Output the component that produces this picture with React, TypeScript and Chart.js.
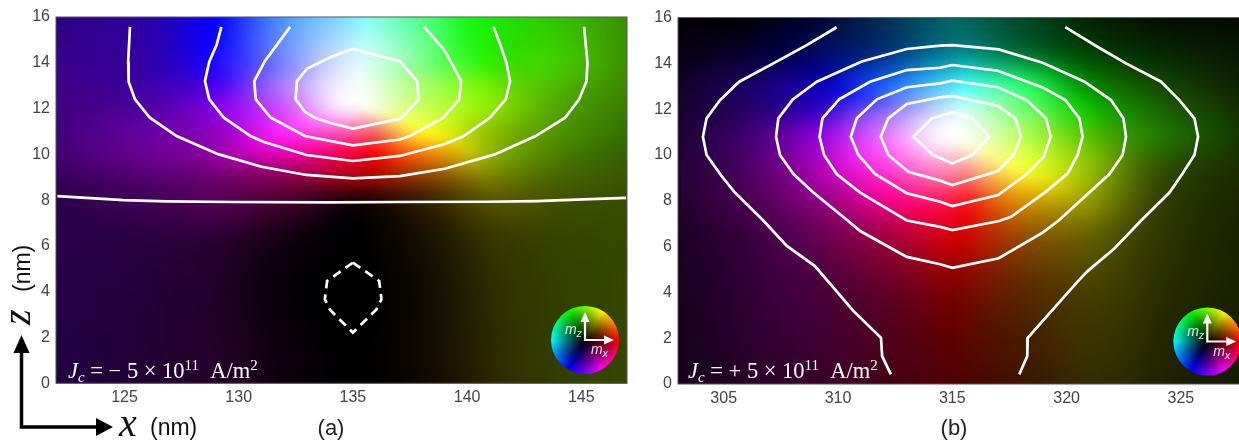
import React, { useEffect, useRef } from "react";
import { Chart, registerables } from "chart.js";
Chart.register(...registerables);

type Pt = [number, number];

// tick labels
const yTicks = [0, 2, 4, 6, 8, 10, 12, 14, 16];
const xTicksA = [125, 130, 135, 140, 145];
const xTicksB = [305, 310, 315, 320, 325];

// ---- panel (a) magnetisation field ----
const gridXA = [122, 126, 129, 132, 135, 138, 141, 144, 147];
const gridZA = [16, 14, 13, 12, 11, 10, 9, 8, 6, 0];
const hueA = [
  [262, 255, 240, 215, 190, 140, 115, 105, 95],
  [265, 258, 245, 235, 200, 125, 108, 100, 95],
  [268, 262, 258, 262, 230, 95, 92, 95, 92],
  [270, 270, 275, 285, 320, 78, 83, 90, 92],
  [272, 278, 285, 300, 335, 58, 75, 88, 92],
  [275, 285, 295, 315, 347, 28, 72, 85, 88],
  [275, 285, 300, 325, 355, 25, 62, 78, 82],
  [275, 285, 300, 320, 350, 30, 58, 72, 78],
  [272, 280, 290, 300, 0, 40, 60, 72, 76],
  [270, 280, 295, 310, 0, 30, 55, 70, 75],
];
const lightA = [
  [25, 33, 50, 65, 75, 65, 47, 38, 28],
  [27, 33, 52, 74, 93, 75, 47, 40, 28],
  [26, 33, 47, 75, 98, 72, 47, 36, 26],
  [25, 32, 45, 66, 97, 68, 46, 32, 24],
  [24, 32, 38, 58, 68, 58, 38, 29, 22],
  [22, 28, 32, 45, 48, 48, 35, 25, 19],
  [18, 22, 22, 27, 33, 28, 25, 20, 17],
  [15, 17, 17, 14, 6, 11, 17, 16, 15],
  [15, 12, 9, 3, 0, 4, 10, 13, 14],
  [13, 10, 8, 3, 0, 3, 8, 12, 14],
];

// ---- panel (b) magnetisation field ----
const gridXB = [303, 306, 309, 312, 315, 318, 321, 324, 328];
const gridZB = [16, 14.5, 13, 12, 10.8, 9.5, 8, 6.5, 4, 0];
const hueB = [
  [260, 245, 235, 205, 180, 155, 120, 112, 100],
  [265, 250, 235, 217, 185, 148, 120, 112, 100],
  [270, 255, 245, 223, 188, 140, 118, 105, 95],
  [270, 262, 255, 250, 200, 120, 115, 105, 92],
  [275, 275, 280, 290, 330, 85, 93, 102, 95],
  [280, 285, 295, 310, 345, 62, 75, 85, 85],
  [285, 295, 305, 325, 350, 40, 62, 72, 78],
  [285, 295, 310, 335, 357, 30, 58, 68, 75],
  [285, 295, 310, 335, 0, 25, 52, 65, 75],
  [285, 300, 315, 340, 0, 20, 50, 65, 75],
];
const lightB = [
  [1, 2, 9, 16, 19, 14, 7, 3, 2],
  [4, 9, 19, 25, 28, 22, 13, 8, 4],
  [7, 20, 35, 56, 65, 58, 28, 15, 6],
  [9, 20, 38, 70, 90, 72, 38, 20, 8],
  [10, 22, 42, 72, 100, 68, 38, 24, 9],
  [10, 20, 36, 62, 80, 62, 38, 17, 8],
  [9, 16, 27, 47, 55, 43, 30, 13, 7],
  [7, 12, 20, 32, 42, 30, 20, 11, 6],
  [6, 10, 14, 19, 24, 18, 14, 9, 6],
  [5, 8, 11, 13, 15, 12, 10, 7, 5],
];

// ---- contours of panel (a), [x, z] ----
const contourA1: Pt[] = [[125.24, 15.57], [125.16, 14.05], [125.18, 13.17], [125.46, 12.4], [126.11, 11.6], [127.28, 10.8], [129.1, 10.01], [131, 9.46], [132.97, 9.1], [135, 8.95], [137.05, 9.05], [139.02, 9.37], [141.21, 10], [143, 10.8], [144.29, 11.6], [144.9, 12.4], [145.22, 13.17], [145.27, 14], [145.12, 15.57]];
const contourA2: Pt[] = [[129.24, 15.57], [129.03, 14.77], [128.71, 14.05], [128.52, 13.2], [128.71, 12.4], [129.35, 11.6], [130.52, 10.8], [131.07, 10.55], [132.97, 9.97], [135, 9.71], [137.05, 9.93], [139.02, 10.45], [139.85, 10.8], [140.99, 11.6], [141.69, 12.4], [141.88, 13.2], [141.72, 14], [141.46, 14.77], [141.15, 15.57]];
const contourA3: Pt[] = [[132.25, 15.57], [131.15, 14.08], [130.68, 13.2], [130.75, 12.4], [131.39, 11.61], [132.9, 10.8], [135, 10.39], [137.05, 10.65], [137.49, 10.8], [138.95, 11.6], [139.65, 12.4], [139.74, 13.2], [139.31, 14], [139, 14.55], [138.12, 15.57]];
const contourA4: Pt[] = [[135, 14.61], [137.05, 14.07], [137.81, 13.2], [137.87, 12.4], [137.08, 11.56], [135, 11.13], [133.99, 11.38], [133.33, 11.6], [132.9, 11.86], [132.49, 12.4], [132.55, 13.2], [133, 13.75], [133.99, 14.23], [135, 14.61]];
const contourA5: Pt[] = [[122.06, 8.18], [124.95, 8], [126.84, 7.95], [129.76, 7.92], [133.99, 7.9], [136.9, 7.92], [140.85, 7.93], [143.03, 7.96], [145.08, 8.03], [146.97, 8.1]];
const contourADash: Pt[] = [[135, 5.27], [136.15, 4.47], [136.25, 3.67], [136.03, 3.23], [135, 2.21], [134, 3.2], [133.77, 3.67], [133.87, 4.47], [135, 5.27]];

// ---- contours of panel (b), [x, z] ----
const contourB1L: Pt[] = [[309.94, 15.58], [308.63, 14.8], [307.17, 14], [305.68, 13.2], [304.84, 12.4], [304.25, 11.6], [304.09, 10.8], [304.25, 10], [304.84, 9.17], [305.45, 8.4], [306.73, 7.14], [307.76, 6.03], [308.99, 5.15], [310.67, 3.19], [311.88, 2.02], [311.93, 1.22], [312.31, 0.42]];
const contourB1R: Pt[] = [[319.94, 15.58], [321.29, 14.76], [322.6, 14], [324.13, 13.2], [324.93, 12.4], [325.59, 11.6], [325.75, 10.8], [325.59, 10], [325.08, 9.2], [324.5, 8.36], [323.26, 7.14], [322.09, 5.92], [320.92, 4.93], [320.48, 4.47], [318.3, 2.02], [318.28, 1.22], [317.93, 0.42]];
const contourB2: Pt[] = [[315, 14.8], [314.47, 14.78], [313.01, 14.63], [311.04, 14.08], [309.07, 13.2], [308.02, 12.43], [307.39, 11.6], [307.29, 10.8], [307.46, 10], [308.05, 9.17], [308.92, 8.36], [310.42, 7.14], [310.97, 6.68], [313.01, 5.55], [314.47, 5.23], [315, 5.07], [317.03, 5.49], [318.95, 6.61], [319.65, 7.14], [320.55, 7.96], [321.87, 9.17], [322.45, 10], [322.6, 10.8], [322.48, 11.6], [321.94, 12.4], [320.78, 13.2], [318.95, 14.03], [317.03, 14.61], [315, 14.8]];
const contourB3: Pt[] = [[315, 13.93], [314.47, 13.81], [313.01, 13.71], [311.4, 13.2], [310.05, 12.43], [309.32, 11.6], [309.19, 10.8], [309.39, 10], [309.94, 9.17], [310.97, 8.36], [313.01, 7.14], [314.47, 6.86], [315, 6.72], [317.05, 7.12], [317.57, 7.3], [319.1, 8.4], [320.05, 9.2], [320.48, 10], [320.7, 10.8], [320.56, 11.6], [319.94, 12.4], [318.95, 12.95], [316.98, 13.68], [315, 13.93]];
const contourB4: Pt[] = [[315, 13.25], [314.47, 13.13], [313.01, 12.96], [311.7, 12.43], [310.82, 11.6], [310.56, 10.8], [310.89, 10], [311.62, 9.17], [313.01, 8.33], [314.47, 7.96], [315, 7.77], [317, 8.25], [318.3, 9.2], [319, 9.93], [319.3, 10.8], [319.1, 11.6], [318.25, 12.4], [317, 12.96], [315, 13.25]];
const contourB5: Pt[] = [[315, 12.58], [314.47, 12.52], [313.01, 12.23], [312.2, 11.6], [311.87, 10.8], [312.2, 10], [313.08, 9.27], [314.47, 8.88], [315, 8.69], [317, 9.3], [317.67, 10], [318, 10.8], [317.76, 11.6], [317, 12.14], [315, 12.58]];
const contourB6: Pt[] = [[315, 11.86], [315.88, 11.6], [316.62, 10.8], [315.88, 10], [315, 9.64], [314.17, 10], [313.3, 10.8], [314.1, 11.6], [315, 11.86]];

const contoursA = [contourA1, contourA2, contourA3, contourA4, contourA5];
const contoursB = [contourB1L, contourB1R, contourB2, contourB3, contourB4, contourB5, contourB6];

type Frag = [string, number, number, boolean];
const labelA: Frag[] = [["J", 22.5, 0, true], ["c", 15, 4, true], [" = \u2212 5 \u00d7 10", 22.5, 0, false], ["11", 15, -8, false], ["  A/m", 22.5, 0, false], ["2", 15, -8, false]];
const labelB: Frag[] = [["J", 22.5, 0, true], ["c", 15, 4, true], [" = + 5 \u00d7 10", 22.5, 0, false], ["11", 15, -8, false], ["  A/m", 22.5, 0, false], ["2", 15, -8, false]];

const SANS = '"Liberation Sans", Arial, sans-serif';
const SERIF = '"Liberation Serif", serif';

// Hermite weights of a value on an irregular grid (4 neighbouring nodes)
function weights(arr: number[], v: number): [number, number][] {
  const n = arr.length;
  const desc = arr[0] > arr[n - 1];
  let i = 0;
  while (i < n - 2 && (desc ? v < arr[i + 1] : v > arr[i + 1])) i++;
  const t0 = arr[i], t1 = arr[i + 1], d = t1 - t0;
  const t = Math.max(0, Math.min(1, (v - t0) / d));
  const h00 = 2 * t * t * t - 3 * t * t + 1, h10 = t * t * t - 2 * t * t + t;
  const h01 = -2 * t * t * t + 3 * t * t, h11 = t * t * t - t * t;
  const w = new Map<number, number>();
  const add = (k: number, x: number) => w.set(k, (w.get(k) || 0) + x);
  add(i, h00);
  add(i + 1, h01);
  const a = Math.max(i - 1, 0), b = i + 1;
  add(b, (h10 * d) / (arr[b] - arr[a]));
  add(a, (-h10 * d) / (arr[b] - arr[a]));
  const c = i, e = Math.min(i + 2, n - 1);
  add(e, (h11 * d) / (arr[e] - arr[c]));
  add(c, (-h11 * d) / (arr[e] - arr[c]));
  return Array.from(w.entries());
}

function fieldPlugin(gx: number[], gz: number[], hue: number[][], light: number[][]) {
  const cells = light.map((row, r) =>
    row.map((l, c) => {
      const L = l / 100;
      const C = 1 - Math.abs(2 * L - 1);
      const h = (hue[r][c] * Math.PI) / 180;
      return [C * Math.cos(h), C * Math.sin(h), L];
    })
  );
  return {
    id: "field",
    beforeDatasetsDraw(chart: any) {
      const { ctx, chartArea: a, scales } = chart;
      const w = Math.ceil(a.right - a.left), h = Math.ceil(a.bottom - a.top);
      const off = document.createElement("canvas");
      off.width = w; off.height = h;
      const oc = off.getContext("2d")!;
      const img = oc.createImageData(w, h);
      const wx: [number, number][][] = [];
      for (let px = 0; px < w; px++) wx.push(weights(gx, scales.x.getValueForPixel(a.left + px + 0.5)));
      for (let py = 0; py < h; py++) {
        const wz = weights(gz, scales.y.getValueForPixel(a.top + py + 0.5));
        for (let px = 0; px < w; px++) {
          let v0 = 0, v1 = 0, v2 = 0;
          for (const [r, wr] of wz) {
            for (const [c, wc] of wx[px]) {
              const p = cells[r][c], k = wr * wc;
              v0 += p[0] * k; v1 += p[1] * k; v2 += p[2] * k;
            }
          }
          const L = Math.max(0, Math.min(1, v2));
          const C = Math.min(Math.hypot(v0, v1), 1 - Math.abs(2 * L - 1));
          let H = (Math.atan2(v1, v0) * 180) / Math.PI;
          if (H < 0) H += 360;
          const X = C * (1 - Math.abs(((H / 60) % 2) - 1));
          const m = L - C / 2;
          const s = Math.floor(H / 60) % 6;
          const rgb = [[C, X, 0], [X, C, 0], [0, C, X], [0, X, C], [X, 0, C], [C, 0, X]][s];
          const o = (py * w + px) * 4;
          img.data[o] = (rgb[0] + m) * 255;
          img.data[o + 1] = (rgb[1] + m) * 255;
          img.data[o + 2] = (rgb[2] + m) * 255;
          img.data[o + 3] = 255;
        }
      }
      oc.putImageData(img, 0, 0);
      ctx.save();
      ctx.beginPath();
      ctx.rect(a.left, a.top, a.right - a.left, a.bottom - a.top);
      ctx.clip();
      ctx.drawImage(off, a.left, a.top, w, h);
      ctx.filter = "blur(5px)";
      ctx.drawImage(off, a.left, a.top, w, h);
      ctx.filter = "none";
      ctx.restore();
    },
  };
}

function arrowHead(ctx: any, tx: number, ty: number, dx: number, dy: number, len: number, half: number) {
  ctx.beginPath();
  ctx.moveTo(tx, ty);
  ctx.lineTo(tx - dx * len - dy * half, ty - dy * len - dx * half);
  ctx.lineTo(tx - dx * len + dy * half, ty - dy * len + dx * half);
  ctx.closePath();
  ctx.fill();
}

function decorPlugin(opts: { wheelX: number; wheelY: number; labelX: number; labelY: number; frags: Frag[]; tag: string; tagX: number; extra?: (ctx: any) => void }) {
  return {
    id: "decor",
    afterDatasetsDraw(chart: any) {
      const { ctx, chartArea: a } = chart;
      ctx.save();
      // frame
      ctx.strokeStyle = "#555";
      ctx.lineWidth = 1;
      ctx.strokeRect(a.left, a.top, a.right - a.left, a.bottom - a.top);
      // colour wheel
      const { wheelX: wx, wheelY: wy } = opts;
      const R = 34;
      const cg = ctx.createConicGradient(0, wx, wy);
      ["#ff0000", "#ff00ff", "#0000ff", "#00ffff", "#00ff00", "#ffff00", "#ff0000"].forEach((col, i) => cg.addColorStop(i / 6, col));
      ctx.fillStyle = cg;
      ctx.beginPath(); ctx.arc(wx, wy, R, 0, Math.PI * 2); ctx.fill();
      const rg = ctx.createRadialGradient(wx, wy, 0, wx, wy, R);
      rg.addColorStop(0, "rgba(0,0,0,1)");
      rg.addColorStop(0.45, "rgba(0,0,0,0.6)");
      rg.addColorStop(1, "rgba(0,0,0,0)");
      ctx.fillStyle = rg;
      ctx.beginPath(); ctx.arc(wx, wy, R, 0, Math.PI * 2); ctx.fill();
      ctx.strokeStyle = "#fff"; ctx.fillStyle = "#fff"; ctx.lineWidth = 2.2;
      ctx.beginPath(); ctx.moveTo(wx, wy - 20); ctx.lineTo(wx, wy); ctx.lineTo(wx + 22, wy); ctx.stroke();
      arrowHead(ctx, wx, wy - 28, 0, -1, 10, 4.5);
      arrowHead(ctx, wx + 29, wy, 1, 0, 10, 4.5);
      ctx.textBaseline = "alphabetic"; ctx.textAlign = "left";
      ctx.font = `italic 14px ${SANS}`;
      ctx.fillStyle = "rgba(255,255,255,0.88)";
      ctx.fillText("m", wx - 20, wy - 6);
      ctx.fillText("m", wx + 6, wy + 14);
      ctx.font = `italic 11px ${SANS}`;
      ctx.fillText("z", wx - 8.5, wy - 3);
      ctx.fillText("x", wx + 17.5, wy + 17);
      // current label
      let cx = opts.labelX;
      ctx.fillStyle = "#fff";
      opts.frags.forEach(([t, size, dy, it]) => {
        ctx.font = `${it ? "italic " : ""}${size}px ${SERIF}`;
        ctx.fillText(t, cx, opts.labelY + dy);
        cx += ctx.measureText(t).width;
      });
      // panel tag
      ctx.fillStyle = "#222";
      ctx.font = `22px ${SANS}`;
      ctx.textAlign = "center";
      ctx.fillText(opts.tag, opts.tagX, 435);
      ctx.textAlign = "left";
      if (opts.extra) opts.extra(ctx);
      ctx.restore();
    },
  };
}

function axesKey(ctx: any) {
  ctx.fillStyle = "#000";
  ctx.strokeStyle = "#000";
  ctx.lineWidth = 3.5;
  ctx.beginPath();
  ctx.moveTo(21.5, 350); ctx.lineTo(21.5, 427); ctx.lineTo(100, 427);
  ctx.stroke();
  arrowHead(ctx, 21.5, 335, 0, -1, 18, 8);
  arrowHead(ctx, 113, 427, 1, 0, 17, 9);
  ctx.fillStyle = "#111";
  ctx.font = `italic 40px ${SERIF}`;
  ctx.fillText("x", 119, 436);
  ctx.font = `23px ${SANS}`;
  ctx.fillText("(nm)", 150, 435);
  ctx.save();
  ctx.translate(30, 0);
  ctx.rotate(-Math.PI / 2);
  ctx.font = `italic 40px ${SERIF}`;
  ctx.fillText("z", -325, 0);
  ctx.font = `23px ${SANS}`;
  ctx.fillText("(nm)", -292, 0);
  ctx.restore();
}

function makeChart(canvas: HTMLCanvasElement, p: any) {
  return new Chart(canvas, {
    type: "scatter",
    data: {
      datasets: p.lines.map((d: Pt[]) => ({
        data: d.map(([x, y]) => ({ x, y })),
        showLine: true,
        borderColor: "#ffffff",
        borderWidth: 2.7,
        pointRadius: 0,
        tension: 0,
        borderDash: d === contourADash ? [9, 6] : [],
      })),
    },
    options: {
      animation: false,
      responsive: false,
      devicePixelRatio: 1,
      layout: { padding: { top: p.top, right: p.right, left: 0, bottom: 0 } },
      plugins: { legend: { display: false }, tooltip: { enabled: false } },
      scales: {
        x: {
          type: "linear", min: p.xMin, max: p.xMax,
          grid: { display: false, drawTicks: false }, border: { display: false },
          afterBuildTicks: (s: any) => { s.ticks = p.xTicks.map((value: number) => ({ value })); },
          afterFit: (s: any) => { s.height = p.bottomH; },
          ticks: { autoSkip: false, maxRotation: 0, padding: 5, color: "#444", font: { family: SANS, size: 16 } },
        },
        y: {
          type: "linear", min: 0, max: 16,
          grid: { display: false, drawTicks: false }, border: { display: false },
          afterBuildTicks: (s: any) => { s.ticks = yTicks.map((value) => ({ value })); },
          afterFit: (s: any) => { s.width = p.leftW; },
          ticks: { autoSkip: false, padding: 6, color: "#444", font: { family: SANS, size: 16 } },
        },
      },
    } as any,
    plugins: [fieldPlugin(p.gx, p.gz, p.hue, p.light), p.decor],
  } as any);
}

export default function App() {
  const a = useRef<HTMLCanvasElement>(null);
  const b = useRef<HTMLCanvasElement>(null);
  useEffect(() => {
    document.body.style.margin = "0";
    document.body.style.overflow = "hidden";
    document.body.style.background = "#fff";
    const c1 = makeChart(a.current!, {
      lines: [...contoursA, contourADash], xMin: 122, xMax: 147, xTicks: xTicksA,
      top: 17, right: 13, leftW: 56, bottomH: 58.7,
      gx: gridXA, gz: gridZA, hue: hueA, light: lightA,
      decor: decorPlugin({ wheelX: 585, wheelY: 340, labelX: 68, labelY: 378, frags: labelA, tag: "(a)", tagX: 331, extra: axesKey }),
    });
    const c2 = makeChart(b.current!, {
      lines: contoursB, xMin: 303, xMax: 328, xTicks: xTicksB,
      top: 17.6, right: 10.5, leftW: 38, bottomH: 58,
      gx: gridXB, gz: gridZB, hue: hueB, light: lightB,
      decor: decorPlugin({ wheelX: 567.3, wheelY: 341.5, labelX: 48, labelY: 378, frags: labelB, tag: "(b)", tagX: 314 }),
    });
    return () => { c1.destroy(); c2.destroy(); };
  }, []);
  return (
    <div style={{ position: "relative", width: 1239, height: 442, overflow: "hidden", background: "#fff" }}>
      <canvas ref={a} width={640} height={442} style={{ position: "absolute", left: 0, top: 0, width: 640, height: 442 }} />
      <canvas ref={b} width={620} height={442} style={{ position: "absolute", left: 640, top: 0, width: 620, height: 442 }} />
    </div>
  );
}
